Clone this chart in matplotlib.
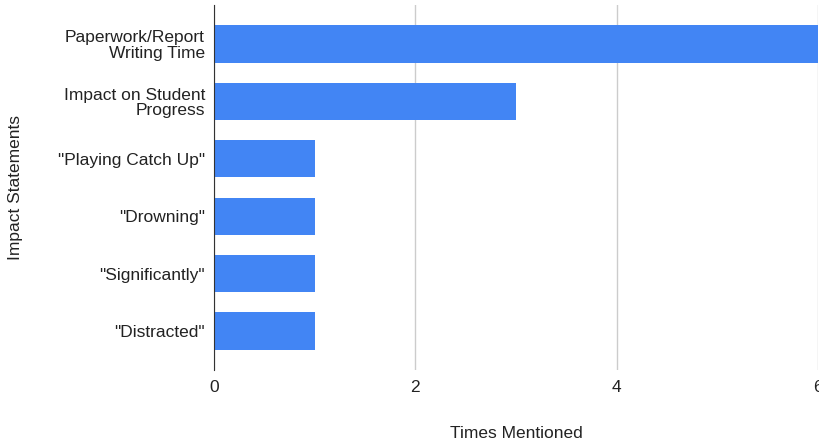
import matplotlib
matplotlib.use('Agg')
from matplotlib import pyplot as plt

statements = ['Paperwork/Report\nWriting Time', 'Impact on Student\nProgress',
              '"Playing Catch Up"', '"Drowning"', '"Significantly"', '"Distracted"']
mentions = [6, 3, 1, 1, 1, 1]
xticks = [0, 2, 4, 6]

plt.rcParams['font.family'] = ['Liberation Sans', 'DejaVu Sans']

fig = plt.figure(figsize=(8.19, 4.43), dpi=100)
ax = fig.add_axes([0.2613, 0.1648, 0.7375, 0.824])

pos = list(range(len(statements)))
ax.barh(pos, mentions, height=0.65, color='#4285F4', zorder=3)
ax.set_yticks(pos)
ax.set_yticklabels(statements, fontsize=12.5, color='#222222', linespacing=1.05)
ax.set_ylim(len(statements) - 0.32, -0.68)
ax.set_xlim(0, 6)
ax.set_xticks(xticks)
ax.set_xticklabels([str(t) for t in xticks], fontsize=12.5, color='#222222')
ax.grid(axis='x', color='#cccccc', linewidth=1, zorder=0)
for s in ['top', 'right', 'bottom']:
    ax.spines[s].set_visible(False)
ax.spines['left'].set_color('#333333')
ax.spines['left'].set_zorder(4)
ax.tick_params(axis='y', length=0, pad=6.5)
ax.tick_params(axis='x', length=0, pad=7.5)
ax.set_xlabel('Times Mentioned', fontsize=12.5, color='#222222')
ax.set_ylabel('Impact Statements', fontsize=12.5, color='#222222')
ax.xaxis.set_label_coords(0.5, -0.153)
ax.yaxis.set_label_coords(-0.317, 0.5)

fig.savefig('out.png', dpi=100)
